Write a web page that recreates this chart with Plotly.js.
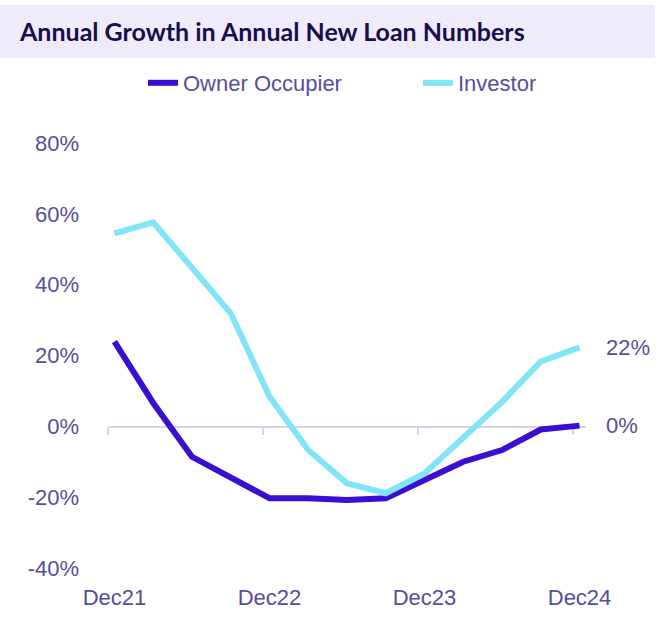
<!DOCTYPE html>
<html>
<head>
<meta charset="utf-8">
<script src="https://cdn.plot.ly/plotly-3.0.1.min.js"></script>
<style>
html, body { margin: 0; padding: 0; background: #fff; }
#chart { width: 670px; height: 633px; }
</style>
</head>
<body>
<div id="chart"></div>
<script>
// months since Dec21, quarterly points
let months = [0, 3, 6, 9, 12, 15, 18, 21, 24, 27, 30, 33, 36];
let ownerOccupier = [23.9, 6.6, -8.6, -14.5, -20.3, -20.3, -20.8, -20.3, -15.0, -10.0, -6.7, -0.9, 0.2];
let investor = [54.5, 57.6, 44.8, 31.9, 8.4, -6.7, -16.1, -18.9, -13.3, -3.0, 6.9, 18.3, 22.3];

let tickPos = [0, 12, 24, 36];
let tickLabels = ['Dec21', 'Dec22', 'Dec23', 'Dec24'];
let yTicks = [-40, -20, 0, 20, 40, 60, 80];
let yTickLabels = ['-40%', '-20%', '0%', '20%', '40%', '60%', '80%'];
let tickMarks = [-0.5, 11.5, 23.5, 35.5];

let labelColor = '#574d9c';
let font = 'Liberation Sans, Arial, sans-serif';

let traceOwner = {
    type: 'scatter',
    mode: 'lines',
    name: 'Owner Occupier',
    x: months,
    y: ownerOccupier,
    line: { color: '#3b0ed2', width: 6 },
    legend: 'legend',
    cliponaxis: false
};

let traceInvestor = {
    type: 'scatter',
    mode: 'lines',
    name: 'Investor',
    x: months,
    y: investor,
    xaxis: 'x2',
    line: { color: '#80e5f8', width: 6 },
    legend: 'legend2',
    cliponaxis: false
};

let last = months.length - 1;

let legendBase = {
    orientation: 'h',
    xref: 'container', yref: 'container',
    xanchor: 'left',
    y: 1 - 83 / 633, yanchor: 'middle',
    font: { family: font, size: 22, color: labelColor },
    bgcolor: 'rgba(0,0,0,0)'
};

let layout = {
    width: 670,
    height: 633,
    margin: { l: 108, r: 84, t: 143, b: 65 },
    paper_bgcolor: '#ffffff',
    plot_bgcolor: '#ffffff',
    font: { family: font, size: 22, color: labelColor },
    title: {
        text: '<b>Annual Growth in Annual New Loan Numbers</b>',
        font: { family: 'Lato, sans-serif', size: 25, color: '#1a0d4c' },
        xref: 'container', yref: 'container',
        x: 20 / 670, xanchor: 'left',
        y: 1 - 32 / 633, yanchor: 'middle'
    },
    showlegend: true,
    legend: Object.assign({}, legendBase, { x: 143 / 670 }),
    legend2: Object.assign({}, legendBase, { x: 418 / 670 }),
    xaxis: {
        range: [-0.5, 36.5],
        tickvals: tickPos,
        ticktext: tickLabels,
        ticks: '',
        showgrid: false,
        zeroline: false,
        showline: false,
        ticklabelstandoff: 14,
        tickfont: { family: font, size: 22, color: labelColor },
        fixedrange: true
    },
    xaxis2: {
        overlaying: 'x',
        anchor: 'free',
        position: 1 / 3,
        side: 'bottom',
        range: [-0.5, 36.5],
        tickvals: tickMarks,
        showticklabels: false,
        ticks: 'outside',
        ticklen: 7,
        tickwidth: 1.5,
        tickcolor: '#d6d2e8',
        showline: true,
        linecolor: '#d6d2e8',
        linewidth: 1.5,
        showgrid: false,
        zeroline: false,
        layer: 'below traces'
    },
    yaxis: {
        range: [-40, 80],
        tickvals: yTicks,
        ticktext: yTickLabels,
        ticks: '',
        showgrid: false,
        zeroline: false,
        showline: false,
        ticklabelstandoff: 28,
        tickfont: { family: font, size: 22, color: labelColor },
        fixedrange: true
    },
    shapes: [
        {
            type: 'rect',
            xref: 'paper', yref: 'paper',
            x0: -108 / 478, x1: (655 - 108) / 478,
            y0: (568 - 58) / 425, y1: (568 - 5) / 425,
            fillcolor: '#efebfa',
            line: { width: 0 },
            layer: 'below'
        }
    ],
    annotations: [
        {
            xref: 'x', yref: 'y',
            x: months[last], y: investor[last],
            text: Math.round(investor[last]) + '%',
            showarrow: false,
            xanchor: 'left', yanchor: 'middle',
            xshift: 24,
            font: { family: font, size: 22, color: labelColor }
        },
        {
            xref: 'x', yref: 'y',
            x: months[last], y: ownerOccupier[last],
            text: Math.round(ownerOccupier[last]) + '%',
            showarrow: false,
            xanchor: 'left', yanchor: 'middle',
            xshift: 24,
            font: { family: font, size: 22, color: labelColor }
        }
    ]
};

Plotly.newPlot('chart', [traceOwner, traceInvestor], layout, { displayModeBar: false, staticPlot: true });
</script>
</body>
</html>
